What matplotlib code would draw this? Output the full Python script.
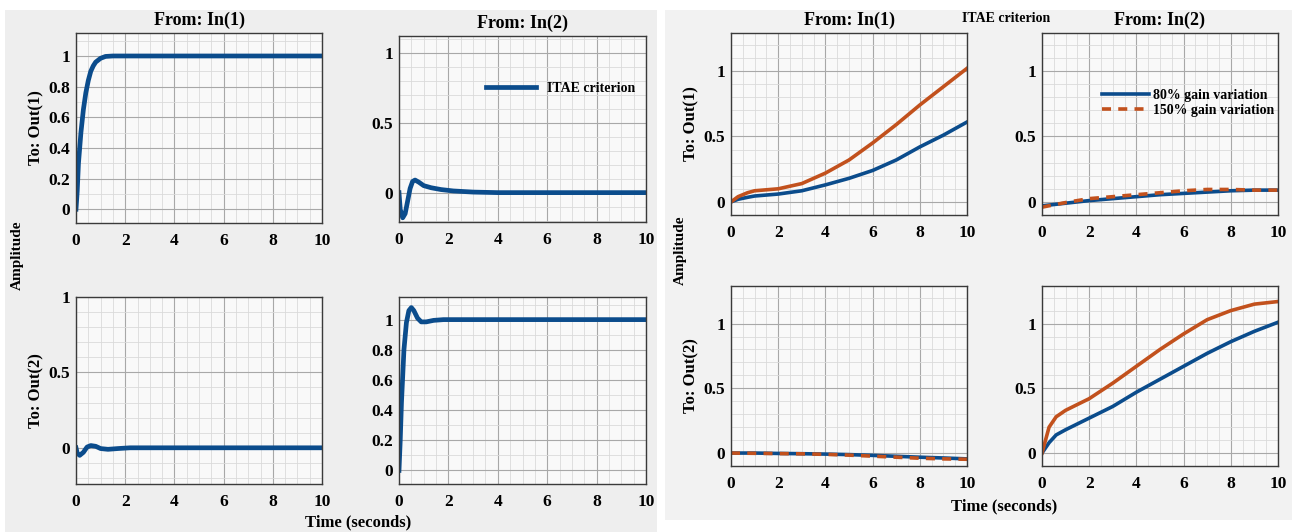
import matplotlib
matplotlib.use('Agg')
import matplotlib.pyplot as plt
from matplotlib.patches import Rectangle
from matplotlib.ticker import MultipleLocator

plt.rcParams['font.family'] = ['Liberation Serif', 'DejaVu Serif']
plt.rcParams['font.weight'] = 'bold'

BLUE = '#0b4c8c'
ORANGE = '#c2511d'

# ---- left figure: ITAE criterion step response ----
t11 = [0, 0.05, 0.1, 0.2, 0.3, 0.4, 0.5, 0.6, 0.7, 0.8, 1.0, 1.2, 1.5, 2, 4, 10]
y11 = [0, 0.12, 0.3, 0.5, 0.65, 0.76, 0.84, 0.9, 0.935, 0.96, 0.985, 0.997, 1.0, 1.0, 1.0, 1.0]

t12 = [0, 0.05, 0.15, 0.25, 0.35, 0.45, 0.55, 0.65, 0.8, 1.0, 1.3, 1.7, 2.2, 3, 4, 10]
y12 = [0, -0.12, -0.18, -0.15, -0.06, 0.03, 0.08, 0.09, 0.075, 0.05, 0.035, 0.022, 0.012, 0.004, 0, 0]

t21 = [0, 0.05, 0.15, 0.3, 0.45, 0.6, 0.8, 1.0, 1.3, 1.7, 2.2, 10]
y21 = [0, -0.035, -0.05, -0.03, 0.005, 0.015, 0.01, -0.005, -0.01, -0.005, 0, 0]

t22 = [0, 0.05, 0.1, 0.2, 0.3, 0.4, 0.5, 0.6, 0.75, 0.9, 1.1, 1.4, 1.8, 10]
y22 = [0, 0.2, 0.45, 0.8, 0.98, 1.06, 1.08, 1.06, 1.01, 0.985, 0.985, 0.995, 1.0, 1.0]

# ---- right figure: gain variation ----
tg = [0, 0.3, 0.7, 1, 2, 3, 4, 5, 6, 7, 8, 9, 10]
g11_80 = [0, 0.02, 0.035, 0.045, 0.06, 0.085, 0.13, 0.18, 0.24, 0.32, 0.42, 0.51, 0.61]
g11_150 = [0, 0.04, 0.07, 0.085, 0.1, 0.14, 0.22, 0.32, 0.45, 0.59, 0.74, 0.88, 1.02]

tg2 = [0, 1, 2, 3, 4, 5, 6, 7, 8, 9, 10]
g12_80 = [-0.03, -0.01, 0.01, 0.025, 0.04, 0.055, 0.065, 0.075, 0.085, 0.09, 0.09]
g12_150 = [-0.04, -0.005, 0.025, 0.04, 0.055, 0.07, 0.085, 0.095, 0.095, 0.09, 0.09]
g21_80 = [0, 0, -0.003, -0.005, -0.008, -0.012, -0.018, -0.025, -0.032, -0.038, -0.045]
g21_150 = [0, -0.002, -0.004, -0.006, -0.01, -0.016, -0.024, -0.032, -0.04, -0.045, -0.048]

tg3 = [0, 0.3, 0.6, 1, 2, 3, 4, 5, 6, 7, 8, 9, 10]
g22_80 = [0, 0.08, 0.14, 0.18, 0.27, 0.36, 0.47, 0.57, 0.67, 0.77, 0.86, 0.94, 1.01]
g22_150 = [0, 0.2, 0.28, 0.33, 0.42, 0.54, 0.67, 0.8, 0.92, 1.03, 1.1, 1.15, 1.17]

W, H = 1295, 532
fig = plt.figure(figsize=(W / 100, H / 100), dpi=100)
fig.patch.set_facecolor('white')

# panel backgrounds
fig.patches.append(Rectangle((5 / W, 0), 652 / W, 1 - 10 / H, transform=fig.transFigure,
                             facecolor='#eeeeee', edgecolor='none', zorder=-10))
fig.patches.append(Rectangle((665 / W, 12 / H), 627 / W, 1 - 22 / H, transform=fig.transFigure,
                             facecolor='#f2f2f2', edgecolor='none', zorder=-10))


def make_ax(x0, x1, y0, y1, ylim, ystep):
    ax = fig.add_axes([x0 / W, 1 - y1 / H, (x1 - x0) / W, (y1 - y0) / H])
    ax.set_facecolor('#f9f9f9')
    ax.set_xlim(0, 10)
    ax.set_ylim(*ylim)
    ax.xaxis.set_major_locator(MultipleLocator(2))
    ax.xaxis.set_minor_locator(MultipleLocator(0.5))
    ax.yaxis.set_major_locator(MultipleLocator(ystep))
    ax.yaxis.set_minor_locator(MultipleLocator(0.1))
    ax.grid(which='major', color='#a8a8a8', linewidth=0.8)
    ax.grid(which='minor', color='#dadada', linewidth=0.6)
    ax.set_axisbelow(True)
    ax.tick_params(which='both', direction='in', top=True, right=True, length=0,
                   labelsize=12.5)
    ax.tick_params(axis='x', pad=7)
    ax.tick_params(axis='y', pad=4)
    for s in ax.spines.values():
        s.set_color('#3a3a3a')
        s.set_linewidth(1.0)
    ax.yaxis.set_major_formatter(plt.FuncFormatter(lambda v, p: ('%g' % round(v, 2))))
    return ax


# left panel axes
a11 = make_ax(76, 322, 33, 223, (-0.09, 1.15), 0.2)
a12 = make_ax(399, 646, 36, 222, (-0.21, 1.12), 0.5)
a21 = make_ax(76, 322, 297, 484, (-0.24, 1.0), 0.5)
a22 = make_ax(399, 646, 297, 484, (-0.09, 1.15), 0.2)

a11.plot(t11, y11, color=BLUE, lw=3.4)
a12.plot(t12, y12, color=BLUE, lw=3.4, label='ITAE criterion')
a21.plot(t21, y21, color=BLUE, lw=3.4)
a22.plot(t22, y22, color=BLUE, lw=3.4)

a11.set_title('From: In(1)', fontsize=13, fontweight='bold', pad=6)
a12.set_title('From: In(2)', fontsize=13, fontweight='bold', pad=6)
a11.set_ylabel('To: Out(1)', fontsize=12, fontweight='bold', labelpad=3)
a21.set_ylabel('To: Out(2)', fontsize=12, fontweight='bold', labelpad=3)
a12.legend(loc='center left', bbox_to_anchor=(0.3, 0.72), frameon=False,
           handlelength=3.6, prop={'weight': 'bold', 'size': 10})

fig.text(17 / W, 1 - 255 / H, 'Amplitude', rotation=90, ha='center', va='center',
         fontsize=11, fontweight='bold')
fig.text(358 / W, 1 - 522 / H, 'Time (seconds)', ha='center', va='center',
         fontsize=12, fontweight='bold')

# right panel axes
b11 = make_ax(731, 967, 33, 215, (-0.1, 1.29), 0.5)
b12 = make_ax(1042, 1278, 33, 215, (-0.1, 1.29), 0.5)
b21 = make_ax(731, 967, 286, 466, (-0.1, 1.29), 0.5)
b22 = make_ax(1042, 1278, 286, 466, (-0.1, 1.29), 0.5)

b11.plot(tg, g11_80, color=BLUE, lw=2.6)
b11.plot(tg, g11_150, color=ORANGE, lw=2.6)
b12.plot(tg2, g12_80, color=BLUE, lw=2.6, label='80% gain variation')
b12.plot(tg2, g12_150, color=ORANGE, lw=2.6, ls=(0, (2.5, 2)), label='150% gain variation')
b21.plot(tg2, g21_80, color=BLUE, lw=2.6)
b21.plot(tg2, g21_150, color=ORANGE, lw=2.6, ls=(0, (2.5, 2)))
b22.plot(tg3, g22_80, color=BLUE, lw=2.6)
b22.plot(tg3, g22_150, color=ORANGE, lw=2.6)

b11.set_title('From: In(1)', fontsize=13, fontweight='bold', pad=6)
b12.set_title('From: In(2)', fontsize=13, fontweight='bold', pad=6)
b11.set_ylabel('To: Out(1)', fontsize=12, fontweight='bold', labelpad=3)
b21.set_ylabel('To: Out(2)', fontsize=12, fontweight='bold', labelpad=3)
b12.legend(loc='center left', bbox_to_anchor=(0.2, 0.615), frameon=False,
           handlelength=3.4, labelspacing=0.15, handletextpad=0.3,
           prop={'weight': 'bold', 'size': 10})

fig.text(1006 / W, 1 - 18 / H, 'ITAE criterion', ha='center', va='center',
         fontsize=10, fontweight='bold')
fig.text(680 / W, 1 - 250 / H, 'Amplitude', rotation=90, ha='center', va='center',
         fontsize=11, fontweight='bold')
fig.text(1004 / W, 1 - 506 / H, 'Time (seconds)', ha='center', va='center',
         fontsize=12, fontweight='bold')

plt.savefig('out.png', dpi=100)
